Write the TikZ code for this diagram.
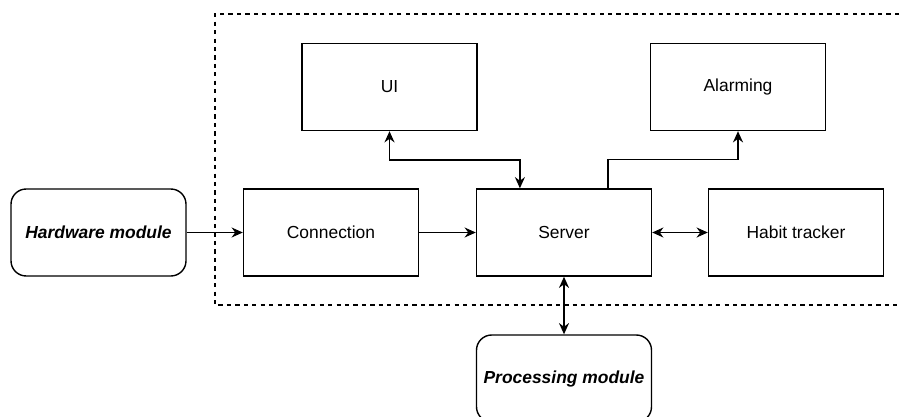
\documentclass[tikz,border=0pt]{standalone}
\usepackage{fontspec}
\setmainfont{Liberation Sans}
\usetikzlibrary{arrows.meta,calc}
\tikzset{
  block/.style={draw=black,fill=white,line width=1pt,minimum width=4.375cm,
    minimum height=2.175cm,align=center,font=\fontsize{12.4}{14}\selectfont},
  module/.style={block,rounded corners=0.38cm,
    font=\fontsize{12.4}{14}\selectfont\bfseries\itshape},
  arrow/.style={-{Stealth[length=0.28cm,width=0.25cm]},line width=1.1pt},
  biarrow/.style={{Stealth[length=0.28cm,width=0.25cm]}-{Stealth[length=0.28cm,width=0.25cm]},line width=1.1pt},
  frame/.style={dashed,line width=0.8pt}
}
\begin{document}
\begin{tikzpicture}

\useasboundingbox (0,0) rectangle (22.55,-10.425);

% dashed system boundary (open to the right)
\draw[frame] (22.475,-0.35) -- (5.375,-0.35) -- (5.375,-7.625) -- (22.475,-7.625);

\node[module] (hw) at (2.4625,-5.8125) {Hardware module};
\node[block] (conn) at (8.275,-5.8125) {Connection};
\node[block] (srv) at (14.1,-5.8125) {Server};
\node[block] (habit) at (19.9,-5.8125) {Habit tracker};
\node[block] (ui) at (9.7375,-2.175) {UI};
\node[block] (alarm) at (18.45,-2.175) {Alarming};
\node[module] (proc) at (14.1,-9.4625) {Processing module};

\coordinate (srvL) at ($(srv.north west)!0.25!(srv.north east)$);
\coordinate (srvR) at ($(srv.north west)!0.75!(srv.north east)$);

\draw[arrow] (hw) -- (conn);
\draw[arrow] (conn) -- (srv);
\draw[biarrow] (srv) -- (habit);
\draw[biarrow] (ui.south) -- ++(0,-0.725) -| (srvL);
\draw[arrow] (srvR) -- ++(0,0.725) -| (alarm.south);
\draw[biarrow] (srv) -- (proc);

\end{tikzpicture}
\end{document}
